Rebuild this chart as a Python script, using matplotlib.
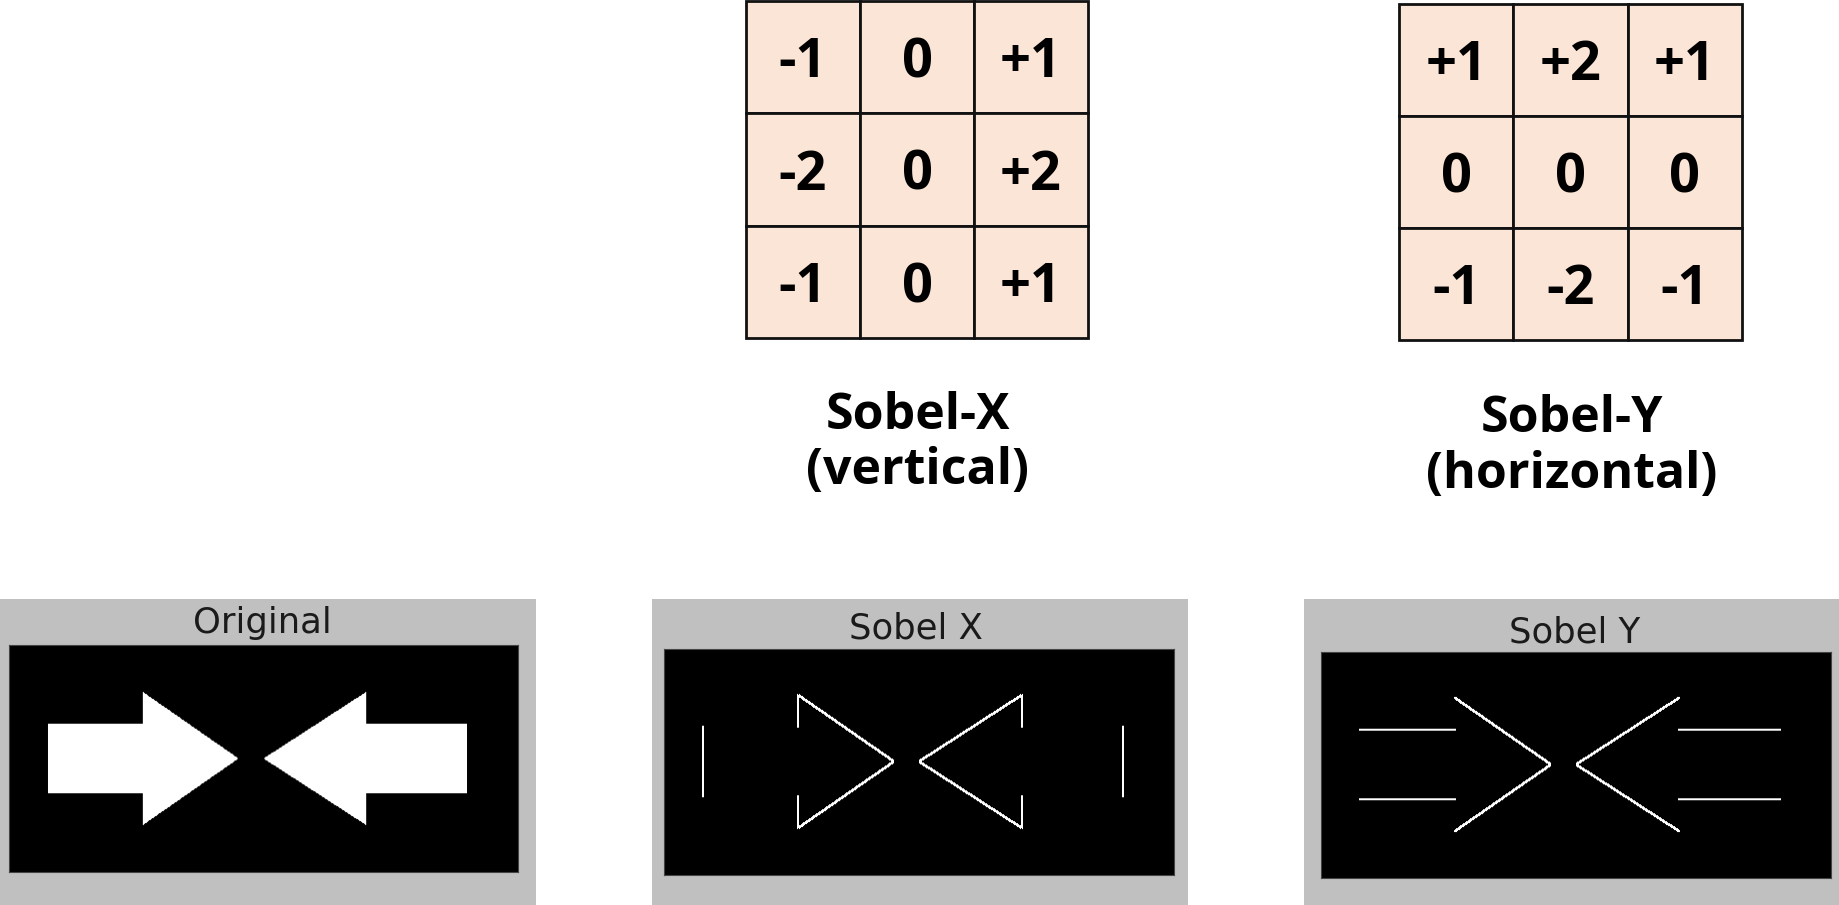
import numpy as np
import matplotlib
matplotlib.use("Agg")
import matplotlib.pyplot as plt
from matplotlib.patches import Rectangle
from matplotlib.path import Path

# canvas size in pixels
W, H = 1840, 905

# kernels
sobel_x = [[-1, 0, 1],
           [-2, 0, 2],
           [-1, 0, 1]]
sobel_y = [[1, 2, 1],
           [0, 0, 0],
           [-1, -2, -1]]
kernel_names = ["Sobel-X", "Sobel-Y"]
kernel_notes = ["(vertical)", "(horizontal)"]
panel_titles = ["Original", "Sobel X", "Sobel Y"]

# test image: two arrows pointing at each other (image pixels)
img_w, img_h = 510, 228
left_arrow = [(39, 79), (134, 79), (134, 47), (230, 114), (134, 181), (134, 149), (39, 149)]
right_arrow = [(459, 79), (358, 79), (358, 47), (255, 114), (358, 181), (358, 149), (459, 149)]

peach = "#fbe5d6"
panel_gray = "#c0c0c0"
big_font = "Open Sans"


def box(x0, y0, x1, y1):
    # pixel box (top-left origin) -> figure fraction rect
    return [x0 / W, 1 - y1 / H, (x1 - x0) / W, (y1 - y0) / H]


def filter3(img, k):
    k = np.asarray(k, float)
    p = np.pad(img, 1, mode="edge")
    out = np.zeros_like(img)
    for i in range(3):
        for j in range(3):
            out += k[i, j] * p[i:i + img.shape[0], j:j + img.shape[1]]
    return np.clip(np.abs(out), 0, 255)


yy, xx = np.mgrid[0:img_h, 0:img_w] + 0.5
pts = np.column_stack([xx.ravel(), yy.ravel()])
inside = Path(left_arrow).contains_points(pts) | Path(right_arrow).contains_points(pts)
original = inside.reshape(img_h, img_w).astype(float) * 255
images = [original, filter3(original, sobel_x), filter3(original, sobel_y)]

fig = plt.figure(figsize=(W / 100, H / 100), dpi=100)

# kernel grids
grid_boxes = [(746, 1, 1088, 338), (1399, 4, 1742, 340)]
for k, b in zip([sobel_x, sobel_y], grid_boxes):
    ax = fig.add_axes(box(*b))
    ax.set_xlim(0, 3)
    ax.set_ylim(3, 0)
    ax.axis("off")
    for r in range(3):
        for c in range(3):
            ax.add_patch(Rectangle((c, r), 1, 1, facecolor=peach, edgecolor="#111111",
                                   lw=2, clip_on=False))
            v = k[r][c]
            s = "0" if v == 0 else f"{v:+d}"
            ax.text(c + 0.5, r + 0.68, s, ha="center", va="baseline", fontsize=39,
                    fontweight="bold", family=big_font, color="black")

# kernel captions
label_pos = [(918, 429, 484), (1572, 432, 488)]
for name, note, (cx, b1, b2) in zip(kernel_names, kernel_notes, label_pos):
    fig.text(cx / W, 1 - b1 / H, name, ha="center", va="baseline", fontsize=36,
             fontweight="bold", family=big_font)
    fig.text(cx / W, 1 - b2 / H, note, ha="center", va="baseline", fontsize=36,
             fontweight="bold", family=big_font)

# image panels
gray_boxes = [(0, 599, 536, 905), (652, 599, 1188, 905), (1304, 599, 1840, 905)]
img_boxes = [(9, 645, 518, 872), (664, 649, 1174, 875), (1321, 652, 1831, 878)]
title_pos = [(262, 633), (916, 638), (1575, 642)]
for g, b, (tx, tb), title, im in zip(gray_boxes, img_boxes, title_pos, panel_titles, images):
    x0, y0, x1, y1 = g
    fig.add_artist(Rectangle((x0 / W, 1 - y1 / H), (x1 - x0) / W, (y1 - y0) / H,
                             transform=fig.transFigure, facecolor=panel_gray,
                             edgecolor="none", zorder=0))
    ax = fig.add_axes(box(*b))
    ax.imshow(im, cmap="gray", vmin=0, vmax=255, aspect="auto", interpolation="antialiased")
    ax.set_xticks([])
    ax.set_yticks([])
    for sp in ax.spines.values():
        sp.set_color("#444444")
        sp.set_linewidth(0.8)
    fig.text(tx / W, 1 - tb / H, title, ha="center", va="baseline", fontsize=25.5,
             family="DejaVu Sans", color="#1a1a1a")

fig.savefig("out.png", dpi=100, facecolor="white")
